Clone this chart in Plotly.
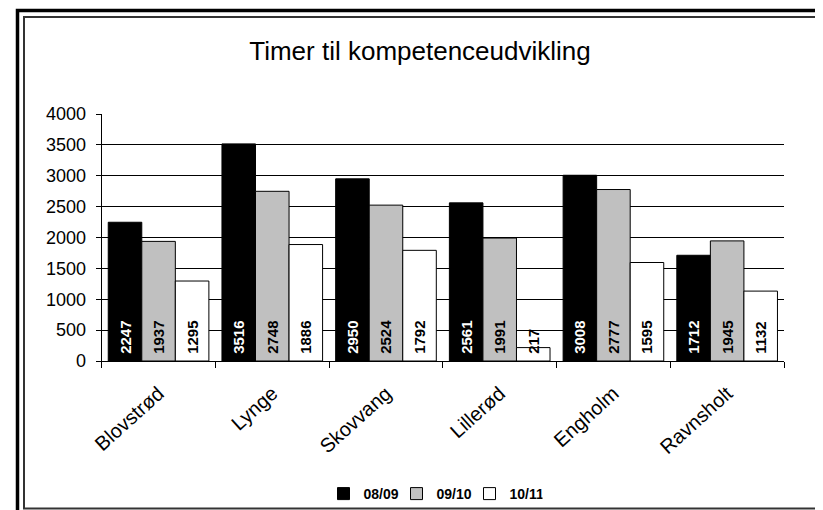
import plotly.graph_objects as go

categories = ["Blovstrød", "Lynge", "Skovvang", "Lillerød", "Engholm", "Ravnsholt"]
series_names = ["08/09", "09/10", "10/11"]
v_0809 = [2247, 3516, 2950, 2561, 3008, 1712]
v_0910 = [1937, 2748, 2524, 1991, 2777, 1945]
v_1011 = [1295, 1886, 1792, 217, 1595, 1132]
y_ticks = [0, 500, 1000, 1500, 2000, 2500, 3000, 3500, 4000]
title_text = "Timer til kompetenceudvikling"

# page is offset by the default 8px body margin
OFF = 8
W, H = 823 - OFF, 510 - OFF
FONT = "Arial, Liberation Sans, sans-serif"


def px(x):
    return (x - OFF) / W


def py(y):
    return 1 - (y - OFF) / H


fills = ["#000000", "#C0C0C0", "#FFFFFF"]
text_colors = ["#FFFFFF", "#000000", "#000000"]

fig = go.Figure()
for name, vals, fc, tc in zip(series_names, [v_0809, v_0910, v_1011], fills, text_colors):
    fig.add_trace(go.Bar(
        x=categories, y=vals, name=name,
        marker=dict(color=fc, line=dict(color="#000000", width=1)),
        text=["\u00a0" + str(v) for v in vals],
        textposition="inside",
        insidetextanchor="start",
        textangle=-90,
        constraintext="none",
        textfont=dict(family=FONT, size=15, color=tc, weight="bold"),
        hoverinfo="skip",
    ))

fig.update_layout(
    template="none",
    width=W, height=H, autosize=False,
    margin=dict(l=0, r=0, t=0, b=0, pad=0, autoexpand=False),
    paper_bgcolor="white", plot_bgcolor="white",
    barmode="group", bargap=0.115, bargroupgap=0,
    font=dict(family=FONT, color="#000000"),
    title=dict(text=title_text, x=px(420), xanchor="center",
               y=py(51), yanchor="middle", automargin=False,
               font=dict(family=FONT, size=26, color="#000000")),
    xaxis=dict(domain=[px(101.7), px(784)], type="category", automargin=False,
               showline=True, linecolor="#000000", linewidth=1,
               ticks="outside", tickson="boundaries", ticklen=6,
               tickcolor="#000000", tickangle=-42,
               ticklabelstandoff=12,
               tickfont=dict(family=FONT, size=20, color="#000000"),
               showgrid=False, zeroline=False),
    yaxis=dict(domain=[py(361), py(114)], range=[0, 4000], tickvals=y_ticks,
               automargin=False,
               showline=True, linecolor="#000000", linewidth=1,
               ticks="outside", ticklen=5, tickcolor="#000000",
               ticklabelstandoff=6,
               tickfont=dict(family=FONT, size=18, color="#000000"),
               showgrid=True, gridcolor="#000000", gridwidth=1,
               zeroline=False),
    legend=dict(orientation="h", x=px(433), xanchor="center",
                y=py(494), yanchor="middle",
                font=dict(family=FONT, size=14, color="#000000", weight="bold"),
                itemwidth=30, entrywidth=28, tracegroupgap=0,
                bgcolor="rgba(0,0,0,0)", borderwidth=0),
    shapes=[
        dict(type="rect", xref="paper", yref="paper",
             x0=px(17.5), x1=1.05, y0=-0.05, y1=py(10.5),
             line=dict(color="#000000", width=3.5), fillcolor="rgba(0,0,0,0)"),
        dict(type="rect", xref="paper", yref="paper",
             x0=px(24), x1=1.05, y0=py(508.5), y1=py(17),
             line=dict(color="#333333", width=2), fillcolor="rgba(0,0,0,0)"),
    ],
)

fig.write_html("out.html")
